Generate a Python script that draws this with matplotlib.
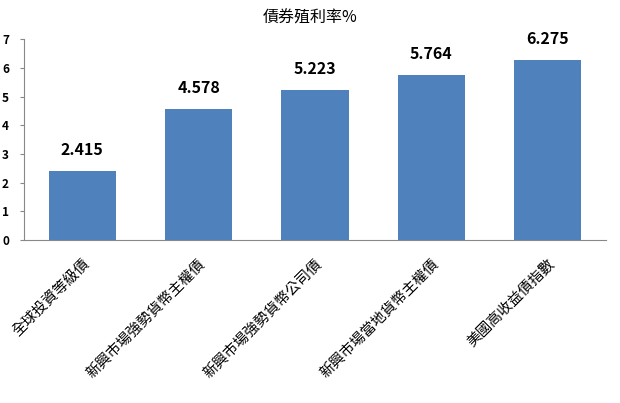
import matplotlib
matplotlib.use("Agg")
import matplotlib.pyplot as plt

plt.rcParams['font.family'] = ['Noto Sans CJK TC', 'DejaVu Sans']

categories = ['全球投資等級債', '新興市場強勢貨幣主權債', '新興市場強勢貨幣公司債',
              '新興市場當地貨幣主權債', '美國高收益債指數']
values = [2.415, 4.578, 5.223, 5.764, 6.275]
value_labels = ['2.415', '4.578', '5.223', '5.764', '6.275']
yticks = [0, 1, 2, 3, 4, 5, 6, 7]

fig = plt.figure(figsize=(6.2, 4.03), dpi=100)
ax = fig.add_axes([0.039, 0.404, 0.938, 0.499])

x = range(len(categories))
bars = ax.bar(x, values, width=0.58, color='#4F81BD')
for b, lab in zip(bars, value_labels):
    ax.text(b.get_x() + b.get_width() / 2, b.get_height() + 0.45, lab,
            ha='center', va='bottom', fontsize=11.5, fontweight='bold')

ax.set_xlim(-0.5, len(categories) - 0.5)
ax.set_ylim(0, 7)
ax.set_yticks(yticks)
ax.set_yticklabels([str(t) for t in yticks], fontsize=8.5, fontweight='bold')
ax.set_xticks(list(x))
ax.set_xticklabels(categories, rotation=45, ha='right', rotation_mode='anchor', fontsize=10.5)
ax.tick_params(axis='x', length=0, pad=12)
ax.tick_params(axis='y', length=3, color='#888888', pad=8)
for s in ['top', 'right']:
    ax.spines[s].set_visible(False)
ax.spines['left'].set_color('#888888')
ax.spines['bottom'].set_color('#888888')

fig.text(0.5, 0.955, '債券殖利率%', ha='center', va='center', fontsize=11.5)

fig.savefig('out.png', dpi=100)
